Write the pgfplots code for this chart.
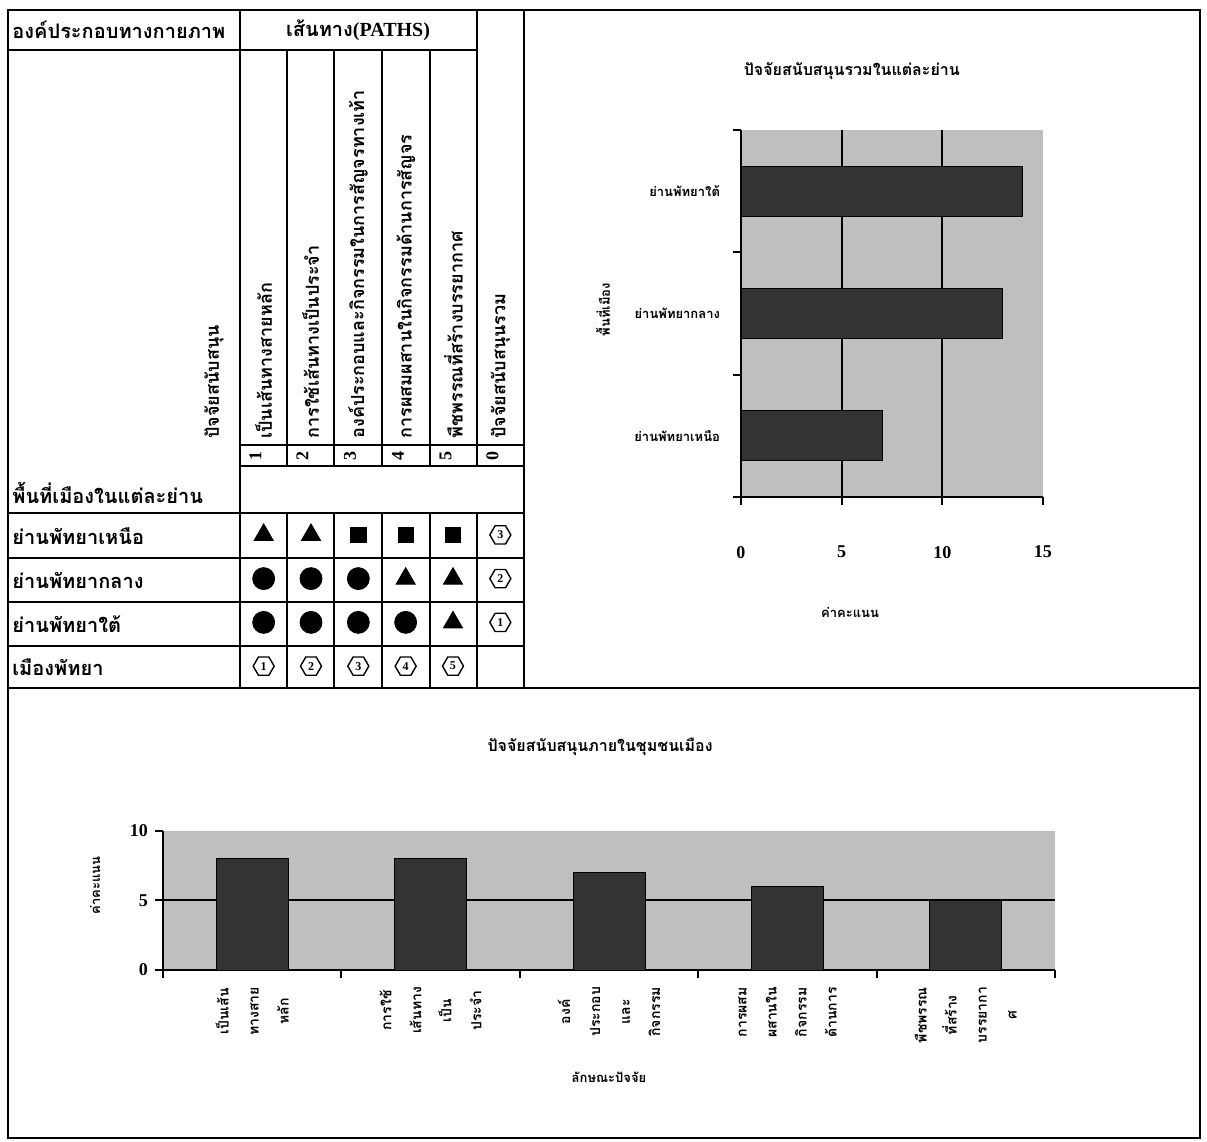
\documentclass[border=0pt]{standalone}
\usepackage{fontspec}
\usepackage{pgfplots}
\pgfplotsset{compat=1.18}
\usetikzlibrary{shapes.geometric}
\setmainfont{Liberation Serif}
\newfontfamily\thai[Script=Thai]{Loma}
\newcommand\tf[2]{\thai\bfseries\fontsize{#1}{#2}\selectfont}
\newcommand\nf[1]{\bfseries\fontsize{#1}{#1}\selectfont}

\tikzset{hexr/.style={draw, regular polygon, regular polygon sides=6, line width=0.7pt,
  inner sep=0pt, minimum size=10.5pt, font=\nf{6}}}

\pgfplotsset{
  /pgf/number format/assume math mode=true,
  chartbase/.style={
    scale only axis, anchor=south west,
    axis lines*=left,
    axis line style={line width=1.2pt},
    axis background/.style={fill=black!25},
    tick align=outside, major tick length=4pt,
    every tick/.style={black, line width=1pt},
    major grid style={black, line width=1pt},
    title style={anchor=center, font=\tf{8}{9}},
    label style={anchor=center, font=\tf{6.5}{7}},
  },
}

\begin{document}
\begin{tikzpicture}
% 1207 x 1142 px page, 1 px = 0.5pt
\path[use as bounding box] (0,0) rectangle (603.5pt,571pt);

% frame and table, in pixel coordinates (y down)
\begin{scope}[x=0.5pt, y=-0.5pt, yshift=571pt]
  \draw[line width=1pt] (8,10) rectangle (1200,1138);
  \draw[line width=1pt] (8,688) -- (1200,688);
  \begin{scope}[line width=1.4pt]
    \draw (524,10) -- (524,688);
    \draw (240,10) -- (240,688);
    \draw (8,50) -- (477,50);
    \draw (477,10) -- (477,466);
    \draw (477,513) -- (477,688);
    \foreach \c in {287,334,382,430} {
      \draw (\c,50) -- (\c,466);
      \draw (\c,513) -- (\c,688);
    }
    \draw (240,445) -- (524,445);
    \draw (240,466) -- (524,466);
    \foreach \r in {513,558,602,646} \draw (8,\r) -- (524,\r);
  \end{scope}

  \begin{scope}[every node/.style={inner sep=1pt}]
    \node[anchor=west, font=\tf{10}{12}] at (10,30) {องค์ประกอบทางกายภาพ};
    \node[font=\nf{10}] at (358,30) {{\tf{10}{12}เส้นทาง}(PATHS)};
    \node[rotate=90, anchor=west, font=\tf{9}{10}] at (214,441) {ปัจจัยสนับสนุน};
    \foreach \cx/\n/\t in {263.5/1/เป็นเส้นทางสายหลัก,
                           310.5/2/การใช้เส้นทางเป็นประจำ,
                           358/3/องค์ประกอบและกิจกรรมในการสัญจรทางเท้า,
                           406/4/การผสมผสานในกิจกรรมด้านการสัญจร,
                           453.5/5/พืชพรรณที่สร้างบรรยากาศ,
                           500.5/0/ปัจจัยสนับสนุนรวม} {
      \node[rotate=90, font=\nf{9}] at (\cx-8,456) {\n};
      \node[rotate=90, anchor=west, font=\tf{9}{10}] at (\cx,441) {\t};
    }
    \node[anchor=west, font=\tf{10}{12}] at (10,493) {พื้นที่เมืองในแต่ละย่าน};
    \node[anchor=west, font=\tf{10}{12}] at (10,536) {ย่านพัทยาเหนือ};
    \node[anchor=west, font=\tf{10}{12}] at (10,580) {ย่านพัทยากลาง};
    \node[anchor=west, font=\tf{10}{12}] at (10,624) {ย่านพัทยาใต้};
    \node[anchor=west, font=\tf{10}{12}] at (10,667) {เมืองพัทยา};
  \end{scope}
\end{scope}

% table symbols: x = path column (0..4, 5 = total), y = 3 north, 2 central, 1 south, 0 city
\begin{axis}[
  at={(120pt,227pt)}, anchor=south west,
  scale only axis, width=142pt, height=87.5pt,
  xmin=-0.5, xmax=5.5, ymin=-0.5, ymax=3.5,
  hide axis, clip=false]
  % score 3
  \addplot[only marks, mark=*, mark size=5.5pt, black]
    coordinates {(0,2) (1,2) (2,2) (0,1) (1,1) (2,1) (3,1)};
  % score 2
  \addplot[only marks, mark=triangle*, mark size=5.5pt, black]
    coordinates {(0,3) (1,3) (3,2) (4,2) (4,1)};
  % score 1
  \addplot[only marks, mark=square*, mark size=3.8pt, black]
    coordinates {(2,3) (3,3) (4,3)};
  % ranks
  \addplot[only marks, mark=text, text mark={1}, text mark as node=true, text mark style={hexr}]
    coordinates {(0,0) (5,1)};
  \addplot[only marks, mark=text, text mark={2}, text mark as node=true, text mark style={hexr}]
    coordinates {(1,0) (5,2)};
  \addplot[only marks, mark=text, text mark={3}, text mark as node=true, text mark style={hexr}]
    coordinates {(2,0) (5,3)};
  \addplot[only marks, mark=text, text mark={4}, text mark as node=true, text mark style={hexr}]
    coordinates {(3,0)};
  \addplot[only marks, mark=text, text mark={5}, text mark as node=true, text mark style={hexr}]
    coordinates {(4,0)};
\end{axis}

% total per district
\begin{axis}[chartbase,
  at={(370.5pt,322.5pt)}, width=151pt, height=183.5pt,
  xbar, bar width=25pt,
  xmin=0, xmax=15, ymin=-0.5, ymax=2.5,
  xtick={0,5,10,15},
  xticklabel style={font=\nf{9}, yshift=-17pt},
  extra x ticks={5,10}, extra x tick labels={}, extra x tick style={grid=major},
  ytick={0,1,2},
  yticklabels={ย่านพัทยาเหนือ, ย่านพัทยากลาง, ย่านพัทยาใต้},
  yticklabel style={font=\tf{6.5}{7}, xshift=-3pt},
  ytick style={draw=none},
  extra y ticks={-0.5,0.5,1.5,2.5}, extra y tick labels={},
  extra y tick style={ytick style={draw=black}},
  title={ปัจจัยสนับสนุนรวมในแต่ละย่าน},
  title style={at={(axis description cs:0.367,1.128)}},
  xlabel={ค่าคะแนน},
  xlabel style={at={(axis description cs:0.361,-0.316)}},
  ylabel={พื้นที่เมือง},
  ylabel style={at={(axis description cs:-0.457,0.51)}},
]
  \addplot[fill=black!80, draw=black] coordinates {(7,0) (13,1) (14,2)};
\end{axis}

% total per path
\begin{axis}[chartbase,
  at={(81.5pt,86pt)}, width=446pt, height=69.5pt,
  ybar, bar width=36pt,
  xmin=-0.5, xmax=4.5, ymin=0, ymax=10,
  ytick={0,5,10},
  yticklabel style={font=\nf{9}},
  extra y ticks={5}, extra y tick labels={}, extra y tick style={grid=major},
  xtick={0,1,2,3,4},
  xticklabels={{เป็นเส้น\\ทางสาย\\หลัก},
               {การใช้\\เส้นทาง\\เป็น\\ประจำ},
               {องค์\\ประกอบ\\และ\\กิจกรรม},
               {การผสม\\ผสานใน\\กิจกรรม\\ด้านการ},
               {พืชพรรณ\\ที่สร้าง\\บรรยากา\\ศ}},
  xticklabel style={yshift=-1pt, rotate=90, anchor=east, align=center, font=\tf{7}{15}},
  xtick style={draw=none},
  extra x ticks={-0.5,0.5,1.5,2.5,3.5,4.5}, extra x tick labels={},
  extra x tick style={xtick style={draw=black}},
  title={ปัจจัยสนับสนุนภายในชุมชนเมือง},
  title style={at={(axis description cs:0.49,1.518)}},
  xlabel={ลักษณะปัจจัย},
  xlabel style={at={(axis description cs:0.5,-0.77)}},
  ylabel={ค่าคะแนน},
  ylabel style={at={(axis description cs:-0.076,0.61)}},
]
  \addplot[fill=black!80, draw=black] coordinates {(0,8) (1,8) (2,7) (3,6) (4,5)};
\end{axis}
\end{tikzpicture}
\end{document}
